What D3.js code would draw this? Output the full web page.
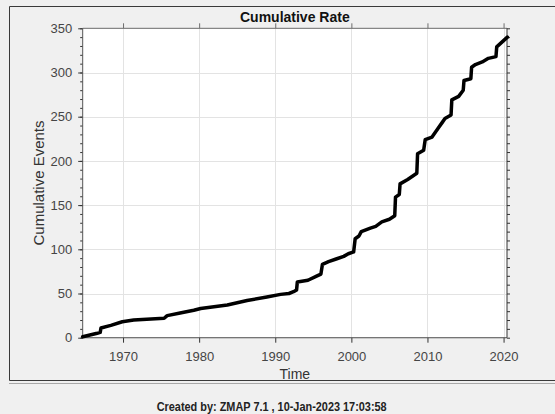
<!DOCTYPE html>
<html>
<head>
<meta charset="utf-8">
<script src="https://cdn.jsdelivr.net/npm/d3@7"></script>
<style>
  html, body { margin: 0; padding: 0; background: #f0f0f0; }
  svg { display: block; font-family: "Liberation Sans", Arial, sans-serif; }
</style>
</head>
<body>
<svg id="chart" width="555" height="414"></svg>
<script>
// Cumulative number of events through time (decimal years)
const eventYears = [
  1964.7, 1966.6, 1967.0, 1967.1, 1968.4, 1969.9, 1971.4, 1975.4, 1975.8, 1977.5,
  1979.3, 1980.2, 1983.7, 1986.3, 1988.9, 1990.7, 1991.8, 1992.4, 1992.8, 1992.9,
  1994.3, 1995.5, 1996.0, 1996.2, 1997.0, 1998.0, 1999.0, 1999.6, 2000.3, 2000.5,
  2001.0, 2001.3, 2002.5, 2003.2, 2004.0, 2005.0, 2005.7, 2005.8, 2006.3, 2006.4,
  2007.4, 2008.6, 2008.7, 2009.5, 2009.7, 2010.6, 2011.4, 2011.9, 2012.3, 2013.1,
  2013.2, 2014.1, 2014.7, 2014.8, 2015.7, 2015.8, 2016.3, 2017.2, 2018.0, 2019.0,
  2019.1, 2020.5
];
const cumulativeCounts = [
  1, 5, 6, 11, 14, 18, 20, 22, 25, 28,
  31, 33, 37, 42, 46, 49, 50, 52, 54, 63,
  65, 70, 72, 83, 86, 89, 92, 95, 97, 112,
  115, 120, 124, 126, 131, 134, 138, 159, 162, 174,
  179, 186, 208, 212, 224, 227, 237, 243, 248, 252,
  269, 273, 280, 291, 293, 306, 309, 312, 316, 318,
  329, 340
];
const xTickValues = [1970, 1980, 1990, 2000, 2010, 2020];
const yTickValues = [0, 50, 100, 150, 200, 250, 300, 350];
const yMinorTickValues = d3.range(0, 351, 10);

const titleText = "Cumulative Rate";
const xLabelText = "Time";
const yLabelText = "Cumulative Events";
const footerText = "Created by: ZMAP 7.1 , 10-Jan-2023 17:03:58";

const svg = d3.select("#chart");
const W = 555, H = 414;
const plot = { left: 82.7, right: 507, top: 28.3, bottom: 337.7 };

const x = d3.scaleLinear().domain([1964.7, 2020.45]).range([plot.left, plot.right]);
const y = d3.scaleLinear().domain([0, 350]).range([plot.bottom, plot.top]);

// figure background and panel frame
svg.append("rect").attr("width", W).attr("height", H).attr("fill", "#f0f0f0");
svg.append("path")
  .attr("d", `M${W + 2},6.5 H9.5 V380.5 H${W + 2}`)
  .attr("fill", "none").attr("stroke", "#3a3a3a").attr("stroke-width", 1);
svg.append("line")
  .attr("x1", 9).attr("x2", W).attr("y1", 383.5).attr("y2", 383.5)
  .attr("stroke", "#a8a8a8").attr("stroke-width", 1);

// plot area
svg.append("rect")
  .attr("x", plot.left).attr("y", plot.top)
  .attr("width", plot.right - plot.left).attr("height", plot.bottom - plot.top)
  .attr("fill", "#ffffff");

// grid
const grid = svg.append("g").attr("stroke", "#e3e3e3").attr("stroke-width", 1);
grid.selectAll(".gx").data(xTickValues).join("line")
  .attr("x1", d => Math.round(x(d)) + 0.5).attr("x2", d => Math.round(x(d)) + 0.5)
  .attr("y1", plot.top).attr("y2", plot.bottom);
grid.selectAll(".gy").data(yTickValues).join("line")
  .attr("y1", d => Math.round(y(d)) + 0.5).attr("y2", d => Math.round(y(d)) + 0.5)
  .attr("x1", plot.left).attr("x2", plot.right);

// axes
function styleAxis(g, color) {
  g.select(".domain").remove();
  g.selectAll(".tick line").attr("stroke", color);
  g.selectAll(".tick text").attr("fill", "#454545").style("font-size", "13px")
    .style("font-family", "'Liberation Sans', Arial, sans-serif");
}

const axisColor = "#6e6e6e";

// bottom
svg.append("g").attr("transform", `translate(0,${plot.bottom})`)
  .call(d3.axisBottom(x).tickValues(xTickValues).tickFormat(d3.format("d")).tickSize(5).tickPadding(6))
  .call(g => styleAxis(g, "#333"))
  .call(g => g.selectAll(".tick text").attr("dy", "0.95em"));
// top
svg.append("g").attr("transform", `translate(0,${plot.top})`)
  .call(d3.axisTop(x).tickValues(xTickValues).tickFormat("").tickSize(5))
  .call(g => styleAxis(g, axisColor));
// left minor
svg.append("g").attr("transform", `translate(${plot.left},0)`)
  .call(d3.axisLeft(y).tickValues(yMinorTickValues).tickFormat("").tickSize(2.5))
  .call(g => styleAxis(g, "#333"));
// left major
svg.append("g").attr("transform", `translate(${plot.left},0)`)
  .call(d3.axisLeft(y).tickValues(yTickValues).tickSize(4.5).tickPadding(6))
  .call(g => styleAxis(g, "#333"));
// right minor + major
svg.append("g").attr("transform", `translate(${plot.right},0)`)
  .call(d3.axisRight(y).tickValues(yMinorTickValues).tickFormat("").tickSize(3))
  .call(g => styleAxis(g, "#333"));

// frame lines
svg.append("line").attr("x1", plot.left).attr("x2", plot.right)
  .attr("y1", plot.top).attr("y2", plot.top).attr("stroke", axisColor);
svg.append("line").attr("x1", plot.left).attr("x2", plot.right)
  .attr("y1", plot.bottom).attr("y2", plot.bottom).attr("stroke", "#555");
svg.append("line").attr("x1", plot.left).attr("x2", plot.left)
  .attr("y1", plot.top).attr("y2", plot.bottom).attr("stroke", "#555");
svg.append("line").attr("x1", plot.right).attr("x2", plot.right)
  .attr("y1", plot.top).attr("y2", plot.bottom).attr("stroke", "#333");

// cumulative curve
const pts = eventYears.map((t, i) => [t, cumulativeCounts[i]]);
svg.append("path")
  .datum(pts)
  .attr("d", d3.line().x(d => x(d[0])).y(d => y(d[1])))
  .attr("fill", "none")
  .attr("stroke", "#000")
  .attr("stroke-width", 3.5)
  .attr("stroke-linejoin", "round")
  .attr("stroke-linecap", "round");

// labels
svg.append("text")
  .attr("x", (plot.left + plot.right) / 2).attr("y", 21.5)
  .attr("text-anchor", "middle")
  .style("font-size", "14px").style("font-weight", "bold").attr("fill", "#111")
  .text(titleText);

svg.append("text")
  .attr("x", (plot.left + plot.right) / 2).attr("y", 379)
  .attr("text-anchor", "middle")
  .style("font-size", "14px").attr("fill", "#333")
  .text(xLabelText);

svg.append("text")
  .attr("transform", `translate(43.5,${(plot.top + plot.bottom) / 2}) rotate(-90)`)
  .attr("text-anchor", "middle")
  .style("font-size", "15px").attr("fill", "#333")
  .text(yLabelText);

svg.append("text")
  .attr("x", 271.7).attr("y", 411)
  .attr("text-anchor", "middle")
  .attr("textLength", 230).attr("lengthAdjust", "spacingAndGlyphs")
  .style("font-size", "13px").style("font-weight", "bold").attr("fill", "#222")
  .text(footerText);
</script>
</body>
</html>
